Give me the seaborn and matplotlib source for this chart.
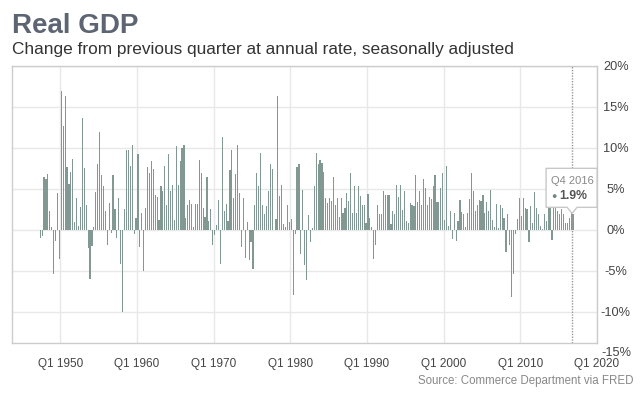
import numpy as np
import pandas as pd
import matplotlib
matplotlib.use("Agg")
import matplotlib.pyplot as plt
import seaborn as sns
from matplotlib.patches import Polygon

# ---------------- data (quarterly real GDP growth, % SAAR) ----------------
start_year = 1947
start_quarter = 2

gdp_1940s = [-1.0, -0.8, 6.4, 6.2, 6.8, 2.3, 0.4, -5.4, -1.3, 4.5, -3.5]
gdp_1950s = [16.9, 12.7, 16.4, 7.7, 5.6, 7.1, 8.6, 1.0, 3.9, 0.5, 2.8, 13.6,
             7.6, 3.1, -2.2, -6.0, -2.0, 0.4, 4.6, 8.1, 11.9, 6.7, 5.4, 2.3,
             -1.8, 3.3, -0.4, 6.7, 2.5, -1.0, 3.9, -4.1, -10.0, 2.6, 9.7, 9.7,
             7.8, 10.3, -0.5, 1.4]
gdp_1960s = [9.3, -2.1, 2.1, -5.0, 2.7, 7.7, 6.9, 8.4, 7.4, 4.3, 4.0, 1.2,
             5.4, 4.8, 7.8, 3.1, 9.3, 4.8, 5.5, 1.2, 10.2, 5.5, 8.4, 10.0,
             10.3, 1.5, 3.1, 3.6, 3.2, 0.4, 3.2, 3.2, 8.5, 7.0, 2.7, 1.6,
             6.4, 1.1, 2.5, -1.9]
gdp_1970s = [-0.6, 0.6, 3.7, -4.2, 11.3, 2.3, 3.2, 1.1, 7.3, 9.8, 3.9, 6.8,
             10.3, 4.5, -2.1, 3.9, -3.4, 1.0, -3.7, -1.5, -4.8, 3.1, 6.9, 5.4,
             9.4, 3.0, 2.0, 2.9, 4.8, 8.0, 7.4, 0.0, 1.3, 16.4, 4.1, 5.5,
             0.7, 0.4, 3.0, 1.0]
gdp_1980s = [1.3, -8.0, -0.5, 7.7, 8.1, -2.9, 4.9, -4.3, -6.1, 1.8, -1.5, 0.2,
             5.3, 9.4, 8.1, 8.5, 8.2, 7.1, 3.9, 3.3, 3.9, 3.5, 6.4, 3.1,
             3.9, 1.6, 3.9, 2.1, 2.7, 4.5, 3.5, 7.0, 2.1, 5.3, 2.1, 5.4,
             4.1, 3.1, 3.0, 0.8]
gdp_1990s = [4.4, 1.5, 0.3, -3.6, -1.9, 3.1, 1.9, 1.9, 4.7, 4.3, 4.2, 4.3,
             0.7, 2.3, 1.9, 5.5, 4.0, 5.5, 2.4, 4.8, 1.1, 0.9, 3.3, 3.0,
             2.9, 6.7, 3.4, 4.8, 3.1, 6.2, 5.1, 3.1, 4.0, 3.8, 5.3, 6.7,
             3.4, 3.4, 5.1, 7.0]
gdp_2000s = [1.2, 7.8, 0.5, 2.3, -1.1, 2.1, -1.3, 1.1, 3.7, 2.2, 2.0, 0.3,
             2.1, 3.8, 6.9, 4.8, 2.3, 3.0, 3.7, 3.5, 4.3, 2.1, 3.4, 2.3,
             4.9, 1.2, 0.4, 3.2, 0.2, 3.1, 2.7, 1.4, -2.7, 2.0, -1.9, -8.2,
             -5.4, -0.5, 1.3, 3.9]
gdp_2010s = [1.7, 3.9, 2.7, 2.5, -1.5, 2.9, 0.8, 4.6, 2.7, 1.9, 0.5, 0.1,
             1.9, 1.1, 3.0, 3.8, -1.2, 4.0, 5.0, 2.3, 2.0, 2.6, 2.0, 0.9,
             0.8, 1.4, 3.5, 1.9]

values = (gdp_1940s + gdp_1950s + gdp_1960s + gdp_1970s + gdp_1980s
          + gdp_1990s + gdp_2000s + gdp_2010s)

tick_years = [1950, 1960, 1970, 1980, 1990, 2000, 2010, 2020]
y_ticks = [-10, -5, 0, 5, 10, 15, 20]

title = "Real GDP"
subtitle = "Change from previous quarter at annual rate, seasonally adjusted"
source = "Source: Commerce Department via FRED"

# quarter positions
idx = np.arange(len(values)) + (start_quarter - 1)
years = start_year + idx // 4
quarters = idx % 4 + 1
q_start = years + (quarters - 1) / 4.0
q_mid = q_start + 0.125
df = pd.DataFrame({"date": q_mid, "growth": values})

# ---------------- style ----------------
sns.set_style("white")
plt.rcParams["font.family"] = ["Liberation Sans", "DejaVu Sans"]

W, H = 640, 396
fig = plt.figure(figsize=(W / 100, H / 100), dpi=100)
ax = fig.add_axes([12 / W, 1 - 343 / H, (597 - 12) / W, (343 - 66) / H])

bar_color = "#829892"
sns.barplot(data=df, x="date", y="growth", native_scale=True, color=bar_color,
            saturation=1, errorbar=None, linewidth=0, width=0.6, ax=ax,
            zorder=2)

ax.set_xlim(1943.7, 2020)
ax.set_ylim(-13.8, 20)
ax.set_xlabel("")
ax.set_ylabel("")

ax.set_xticks(tick_years)
ax.set_xticklabels([f"Q1 {y}" for y in tick_years])
ax.set_yticks(y_ticks)
ax.set_yticklabels([f"{t}%" for t in y_ticks])
ax.yaxis.tick_right()
ax.tick_params(axis="x", length=0, pad=11, labelsize=8.5, colors="#444444")
ax.tick_params(axis="y", length=0, pad=13.5, labelsize=9.2, colors="#444444")
for lab in ax.get_yticklabels():
    lab.set_horizontalalignment("center")
ax.text(1 + 19 / 585, -15, "-15%", transform=ax.get_yaxis_transform(),
        ha="center", va="center", fontsize=9.2, color="#444444", clip_on=False)

ax.grid(True, color="#e8e8e8", linewidth=1)
ax.set_axisbelow(True)
for s in ax.spines.values():
    s.set_visible(True)
    s.set_color("#cccccc")
    s.set_linewidth(1)

# hover line at last quarter
last_x = q_start[-1]
last_v = values[-1]
ax.axvline(last_x, color="#999999", linestyle=(0, (1, 1)), linewidth=1, zorder=3)

# ---------------- tooltip ----------------
fig.canvas.draw()
tx, ty = ax.transData.transform((last_x, last_v))
bl, br = tx - 26, tx + 25
bb, bt = ty + 7, ty + 46
poly = [(bl, bb), (tx - 5, bb), (tx, ty + 1), (tx + 5, bb), (br, bb),
        (br, bt), (bl, bt)]
box = Polygon(poly, closed=True, facecolor="white", edgecolor="#c8c8c8",
              linewidth=1, transform=None, zorder=5, clip_on=False)
fig.add_artist(box)
fig.text((bl + 5) / W, (ty + 33) / H, "Q4 2016", fontsize=8, color="#888888",
         va="center", ha="left", zorder=6)
fig.text((bl + 5) / W, (ty + 18) / H, "\u25cf", fontsize=6.5, color="#6f8a83",
         va="center", ha="left", zorder=6)
fig.text((bl + 13) / W, (ty + 18) / H, f"{last_v}%", fontsize=8.8,
         color="#555555", va="center", ha="left", fontweight="bold", zorder=6)

# ---------------- titles ----------------
fig.text(12 / W, 1 - 33 / H, title, fontsize=20, fontweight="bold",
         color="#5d6472", ha="left", va="baseline")
fig.text(12 / W, 1 - 54 / H, subtitle, fontsize=12.4, color="#333333",
         ha="left", va="baseline")
fig.text(633 / W, 1 - 384 / H, source, fontsize=8.3, color="#888888",
         ha="right", va="baseline")

fig.savefig("out.png", dpi=100)
